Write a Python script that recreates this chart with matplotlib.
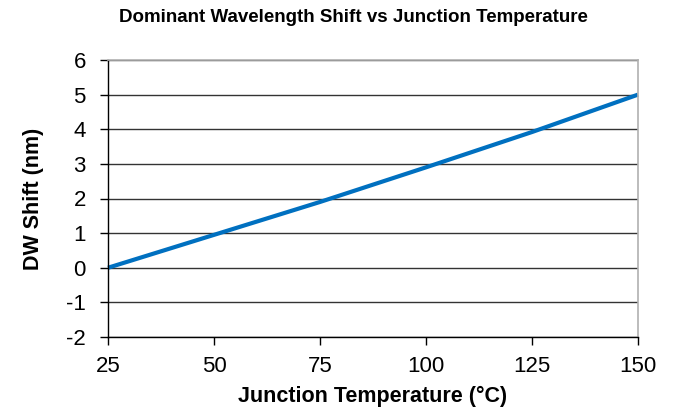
import matplotlib
matplotlib.use("Agg")
import matplotlib.pyplot as plt

temps = [25, 50, 75, 100, 125, 150]
shift = [0.0, 0.95, 1.9, 2.9, 3.92, 5.0]
xticks = [25, 50, 75, 100, 125, 150]
yticks = [-2, -1, 0, 1, 2, 3, 4, 5, 6]

plt.rcParams['font.family'] = ['Liberation Sans', 'DejaVu Sans']
plt.rcParams['axes.unicode_minus'] = False

fig = plt.figure(figsize=(6.75, 4.13), dpi=100)
ax = fig.add_axes([108/675, 1-337/413, (638-108)/675, (337-60)/413])

ax.set_xlim(25, 150)
ax.set_ylim(-2, 6)
ax.set_xticks(xticks)
ax.set_yticks(yticks)
ax.yaxis.grid(True, color='#333333', linewidth=1.0)
ax.set_axisbelow(True)
ax.plot(temps, shift, color='#0070C0', linewidth=3, solid_capstyle='butt', clip_on=False)

for s in ['top', 'right']:
    ax.spines[s].set_color('#b0b0b0')
    ax.spines[s].set_linewidth(1.2)
for s in ['left', 'bottom']:
    ax.spines[s].set_color('black')
    ax.spines[s].set_linewidth(1.0)

ax.tick_params(axis='both', direction='out', length=6, width=1, labelsize=16, color='black')
ax.tick_params(axis='y', pad=10)
ax.tick_params(axis='x', pad=8)

ax.set_xlabel('Junction Temperature (°C)', fontsize=15.5, fontweight='bold', labelpad=6)
ax.set_ylabel('DW Shift (nm)', fontsize=15.5, fontweight='bold', labelpad=16)
fig.text(0.524, 0.958, 'Dominant Wavelength Shift vs Junction Temperature', fontsize=13.5,
         fontweight='bold', ha='center', va='center')

fig.savefig('out.png', dpi=100, facecolor='white')
